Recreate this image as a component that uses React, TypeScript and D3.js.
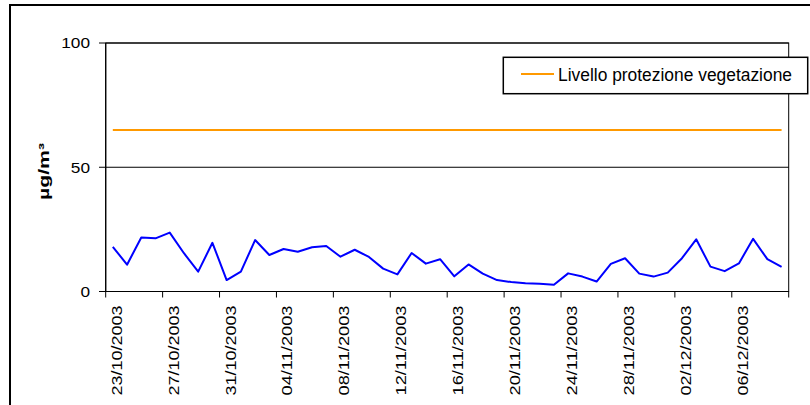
import React from "react";
import * as d3 from "d3";

const startDate = new Date(2003, 9, 23);
const endDate = new Date(2003, 11, 10);
const categories: Date[] = d3.timeDays(startDate, endDate);
const values: number[] = [
  18.0, 10.8, 21.7, 21.4, 23.7, 15.4, 8.0, 19.6, 4.6, 8.0,
  20.7, 14.7, 17.1, 16.0, 17.8, 18.3, 14.0, 16.8, 13.9, 9.2,
  6.9, 15.5, 11.2, 13.0, 6.1, 10.9, 7.2, 4.6, 3.8, 3.3,
  3.1, 2.7, 7.3, 6.0, 4.0, 11.1, 13.4, 7.2, 6.0, 7.6,
  13.4, 21.0, 10.0, 8.2, 11.3, 21.2, 13.0, 9.9,
];
const thresholdValue = 65;
const thresholdLabel = "Livello protezione vegetazione";
const yTicks = [0, 50, 100];
const yTitle = "µg/m³";
const labelEvery = 4;

const W = 810;
const H = 405;
const L = 105.7;
const R = 788.7;
const T = 43;
const B = 291.5;

export default function App() {
  const fmt = d3.timeFormat("%d/%m/%Y");
  const x = d3
    .scaleBand<string>()
    .domain(categories.map((d) => fmt(d)))
    .range([L, R])
    .padding(0);
  const bw = x.bandwidth();
  const cx = (d: Date) => (x(fmt(d)) as number) + bw / 2;
  const y = d3.scaleLinear().domain([0, 100]).range([B, T]);

  const line = d3
    .line<number>()
    .x((_, i) => cx(categories[i]))
    .y((v) => y(v));

  const thrLine = d3
    .line<Date>()
    .x((d) => cx(d))
    .y(() => y(thresholdValue));

  const tickIdx = d3.range(0, categories.length + 1, labelEvery);
  const font = "Arial, 'Liberation Sans', sans-serif";

  return (
    <svg
      width={W}
      height={H}
      style={{ position: "absolute", left: 0, top: 0, background: "#fff" }}
      fontFamily={font}
    >
      <rect x={0} y={0} width={W} height={H} fill="#fff" />
      <rect x={10} y={5} width={820} height={420} fill="none" stroke="#000" strokeWidth={2} />

      {/* plot area */}
      <rect x={L} y={T} width={R - L} height={B - T} fill="#fff" stroke="#000" strokeWidth={1} />
      {yTicks.map((t) => (
        <g key={t}>
          <line x1={L} x2={R} y1={y(t)} y2={y(t)} stroke="#000" strokeWidth={1} />
          <line x1={99} x2={L} y1={y(t)} y2={y(t)} stroke="#000" strokeWidth={1} />
          <text
            x={90}
            y={y(t) + 5.3}
            fontSize={15}
            textAnchor="end"
            textLength={String(t).length * 9.6}
            lengthAdjust="spacingAndGlyphs"
            fill="#000"
          >
            {t}
          </text>
        </g>
      ))}
      <line x1={L} x2={L} y1={T} y2={B} stroke="#000" strokeWidth={1.2} />
      <line x1={L} x2={R} y1={B} y2={B} stroke="#000" strokeWidth={1.2} />

      {tickIdx.map((i) => {
        const xp = L + i * bw;
        return <line key={"t" + i} x1={xp} x2={xp} y1={B} y2={B + 6} stroke="#000" strokeWidth={1} />;
      })}
      {categories.map((d, i) =>
        i % labelEvery === 0 ? (
          <text
            key={"l" + i}
            transform={`translate(${cx(d) + 8.9},305.5) rotate(-90)`}
            fontSize={15}
            textAnchor="end"
            textLength={90}
            lengthAdjust="spacingAndGlyphs"
            fill="#000"
          >
            {fmt(d)}
          </text>
        ) : null
      )}

      <path d={thrLine(categories) || ""} fill="none" stroke="#FF9900" strokeWidth={2} />
      <path d={line(values) || ""} fill="none" stroke="#0000FF" strokeWidth={2} strokeLinejoin="round" />

      <text
        transform={`translate(48.5,171.5) rotate(-90)`}
        fontSize={14}
        fontWeight="bold"
        textAnchor="middle"
        textLength={57}
        lengthAdjust="spacingAndGlyphs"
        fill="#000"
      >
        {yTitle}
      </text>

      {/* legend */}
      <rect x={503.3} y={57.3} width={304.4} height={36.4} fill="#fff" stroke="#000" strokeWidth={1.5} />
      <line x1={521} x2={554} y1={74} y2={74} stroke="#FF9900" strokeWidth={2} />
      <text x={558} y={80.5} fontSize={17.5} fill="#000" textLength={234} lengthAdjust="spacingAndGlyphs">
        {thresholdLabel}
      </text>
    </svg>
  );
}
